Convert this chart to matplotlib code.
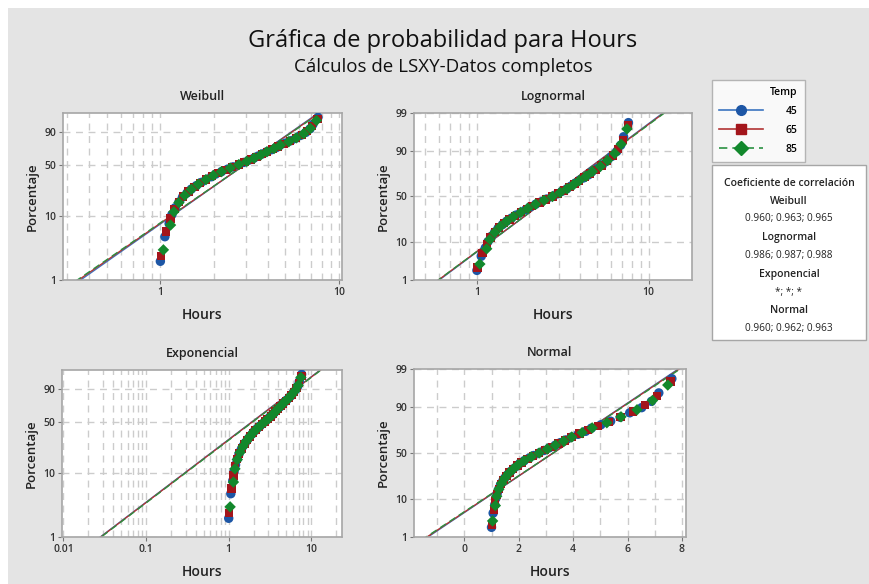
import numpy as np
import matplotlib
matplotlib.use("Agg")
import matplotlib.pyplot as plt
from matplotlib.patches import Rectangle
from matplotlib.lines import Line2D
from matplotlib.ticker import FixedLocator, NullFormatter
from statistics import NormalDist

plt.rcParams['font.family'] = ['Open Sans', 'DejaVu Sans']

# Hours por temperatura (ordenados)
hours_45 = [1.00, 1.06, 1.12, 1.16, 1.21, 1.27, 1.33, 1.41, 1.49, 1.59, 1.69, 1.80,
            1.93, 2.04, 2.20, 2.38, 2.55, 2.75, 2.93, 3.12, 3.34, 3.53, 3.73, 3.93,
            4.18, 4.46, 4.67, 5.02, 5.38, 5.73, 6.08, 6.52, 6.88, 7.15, 7.63]
hours_65 = [1.01, 1.08, 1.14, 1.20, 1.27, 1.34, 1.44, 1.55, 1.66, 1.80, 1.95, 2.10,
            2.32, 2.52, 2.75, 2.96, 3.22, 3.46, 3.70, 3.94, 4.24, 4.55, 4.92, 5.32,
            5.74, 6.20, 6.64, 7.08, 7.58]
hours_85 = [1.04, 1.14, 1.19, 1.27, 1.37, 1.49, 1.63, 1.80, 1.98, 2.20, 2.46, 2.75,
            3.05, 3.35, 3.65, 3.95, 4.33, 4.70, 5.24, 5.76, 6.35, 6.92, 7.48]

temps = ['45', '65', '85']
corr_dists = ['Weibull', 'Lognormal', 'Exponencial', 'Normal']
corr_vals = ['0.960; 0.963; 0.965', '0.986; 0.987; 0.988', '*; *; *', '0.960; 0.962; 0.963']

groups = [hours_45, hours_65, hours_85]
pt_colors = ['#1d56a5', '#a3151b', '#12882c']
ln_colors = ['#3b74c0', '#b23434', '#2a9142']
markers = ['o', 's', 'D']
msizes = [46, 36, 34]
lstyles = ['-', '-', (0, (5, 3))]

W, H = 870, 584
BG = '#e4e4e4'
TXT = '#222222'
nd = NormalDist()
inv_norm = np.vectorize(nd.inv_cdf, otypes=[float])
cdf_norm = np.vectorize(nd.cdf, otypes=[float])


def weib_fwd(p):
    q = np.clip(np.asarray(p, float) / 100.0, 1e-6, 1 - 1e-9)
    return np.log(-np.log(1 - q))


def weib_inv(w):
    return 100.0 * (1 - np.exp(-np.exp(np.asarray(w, float))))


def norm_fwd(p):
    q = np.clip(np.asarray(p, float) / 100.0, 1e-6, 1 - 1e-6)
    return inv_norm(q)


def norm_inv(z):
    return 100.0 * cdf_norm(np.asarray(z, float))


def ranks(x):
    n = len(x)
    i = np.arange(1, n + 1)
    return 100.0 * (i - 0.3) / (n + 0.4)


def fit_line(kind, x, p, pg):
    x = np.asarray(x, float)
    q = p / 100.0
    qg = pg / 100.0
    if kind == 'weibull':
        b, a = np.polyfit(np.log(-np.log(1 - q)), np.log(x), 1)
        return np.exp(a + b * np.log(-np.log(1 - qg)))
    if kind == 'lognormal':
        b, a = np.polyfit(inv_norm(q), np.log(x), 1)
        return np.exp(a + b * inv_norm(qg))
    if kind == 'exponential':
        t = -np.log(1 - q)
        theta = np.sum(x * t) / np.sum(t * t)
        return theta * (-np.log(1 - qg))
    b, a = np.polyfit(inv_norm(q), x, 1)
    return a + b * inv_norm(qg)


fig = plt.figure(figsize=(W / 100, H / 100), dpi=100)
fig.patch.set_facecolor('white')
fig.add_artist(Rectangle((8 / W, 0), 1, 1 - 8 / H, transform=fig.transFigure,
                         facecolor=BG, edgecolor='none', zorder=-10))

fig.text(443 / W, 1 - 41 / H, 'Gráfica de probabilidad para Hours', ha='center', va='center',
         fontsize=17, color='#111111')
fig.text(443 / W, 1 - 67 / H, 'Cálculos de LSXY-Datos completos', ha='center', va='center',
         fontsize=13.5, color='#111111')

# (titulo, tipo, caja en px [izq, der, arriba, abajo], limites x, escala x)
panels = [
    ('Weibull', 'weibull', (63, 342, 113, 280), (0.285, 10.4), 'log'),
    ('Lognormal', 'lognormal', (414, 692, 113, 280), (0.43, 17.9), 'log'),
    ('Exponencial', 'exponential', (62, 342, 370, 537), (0.0096, 23.5), 'log'),
    ('Normal', 'normal', (414, 686, 369, 537), (-1.85, 8.15), 'linear'),
]

pg = np.linspace(0.3, 99.9, 400)

for title, kind, (l, r, t, b), xlim, xscale in panels:
    ax = fig.add_axes([l / W, 1 - b / H, (r - l) / W, (b - t) / H])
    ax.set_facecolor('white')
    if kind in ('weibull', 'exponential'):
        ax.set_yscale('function', functions=(weib_fwd, weib_inv))
        yt = [1, 10, 50, 90]
    else:
        ax.set_yscale('function', functions=(norm_fwd, norm_inv))
        yt = [1, 10, 50, 90, 99]
    ax.set_ylim(1, 99)
    ax.yaxis.set_major_locator(FixedLocator(yt))
    ax.set_yticklabels([str(v) for v in yt])
    ax.yaxis.set_minor_locator(FixedLocator([]))

    ax.set_xscale(xscale)
    if kind == 'weibull':
        maj = [1, 10]
        mnr = [0.3, 0.4, 0.5, 0.6, 0.7, 0.8, 0.9] + list(range(2, 10))
        lbl = ['1', '10']
    elif kind == 'lognormal':
        maj = [1, 10]
        mnr = [0.5, 0.6, 0.7, 0.8, 0.9] + list(range(2, 10))
        lbl = ['1', '10']
    elif kind == 'exponential':
        maj = [0.01, 0.1, 1, 10]
        mnr = ([k / 100 for k in range(2, 10)] + [k / 10 for k in range(2, 10)]
               + list(range(2, 10)) + [20])
        lbl = ['0.01', '0.1', '1', '10']
    else:
        maj = [0, 2, 4, 6, 8]
        mnr = [-1, 1, 3, 5, 7]
        lbl = ['0', '2', '4', '6', '8']
    ax.xaxis.set_major_locator(FixedLocator(maj))
    ax.xaxis.set_minor_locator(FixedLocator(mnr))
    ax.set_xticklabels(lbl)
    ax.xaxis.set_minor_formatter(NullFormatter())
    ax.set_xlim(*xlim)

    ax.grid(True, which='both', axis='x', color='#cccccc', linestyle=(0, (5, 4)), linewidth=1.0)
    ax.grid(True, which='major', axis='y', color='#cccccc', linestyle=(0, (5, 4)), linewidth=1.0)
    ax.set_axisbelow(True)

    for x, c, lc, m, s, ls in zip(groups, pt_colors, ln_colors, markers, msizes, lstyles):
        p = ranks(x)
        ax.plot(fit_line(kind, x, p, pg), pg, color=lc, linestyle=ls, linewidth=1.0, zorder=2)
        ax.scatter(x, p, s=s, marker=m, color=c, edgecolors='none', zorder=3)

    for sp in ax.spines.values():
        sp.set_color('#a6a6a6')
        sp.set_linewidth(1.2)
    ax.tick_params(which='major', length=3, width=0.8, color='#777777',
                   labelsize=7.5, labelcolor='#333333', pad=2)
    for lab in ax.get_xticklabels() + ax.get_yticklabels():
        lab.set_fontweight('semibold')
    ax.tick_params(which='minor', length=0)
    ax.set_title(title, fontsize=9, fontweight='semibold', color=TXT, pad=9)
    ax.set_xlabel('Hours', fontsize=10, fontweight='semibold', color=TXT, labelpad=7)
    ax.set_ylabel('Porcentaje', fontsize=9.5, fontweight='semibold', color=TXT, labelpad=4)

# leyenda Temp
handles = [Line2D([], [], color=lc, linestyle=ls, linewidth=1.2, marker=m, markersize=7,
                  markerfacecolor=c, markeredgecolor=c)
           for c, lc, m, ls in zip(pt_colors, ln_colors, markers, lstyles)]
leg = fig.legend(handles, temps, title='Temp', loc='upper left',
                 bbox_to_anchor=(712 / W, 1 - 80 / H), frameon=True, fancybox=False,
                 prop={'size': 7.5, 'weight': 'semibold'},
                 title_fontproperties={'size': 7.5, 'weight': 'semibold'},
                 handlelength=4.2, handletextpad=2.2,
                 labelspacing=0.75, borderpad=0.7, alignment='right', borderaxespad=0)
leg.get_frame().set_edgecolor('#a6a6a6')
leg.get_frame().set_linewidth(1.0)

# caja de coeficientes de correlacion
fig.add_artist(Rectangle((712 / W, 1 - 340 / H), (866 - 712) / W, (340 - 165) / H,
                         transform=fig.transFigure, facecolor='white',
                         edgecolor='#a6a6a6', linewidth=1.0))
cx = 789 / W
fig.text(cx, 1 - 183 / H, 'Coeficiente de correlación', ha='center', va='center',
         fontsize=7.5, fontweight='semibold', color=TXT)
y0 = 201
for k, (dname, val) in enumerate(zip(corr_dists, corr_vals)):
    fig.text(cx, 1 - (y0 + k * 36.5) / H, dname, ha='center', va='center',
             fontsize=7.5, fontweight='semibold', color=TXT)
    fig.text(cx, 1 - (y0 + 18 + k * 36.5) / H, val, ha='center', va='center',
             fontsize=7.2, color=TXT)

fig.savefig('out.png', dpi=100, facecolor=fig.get_facecolor())
